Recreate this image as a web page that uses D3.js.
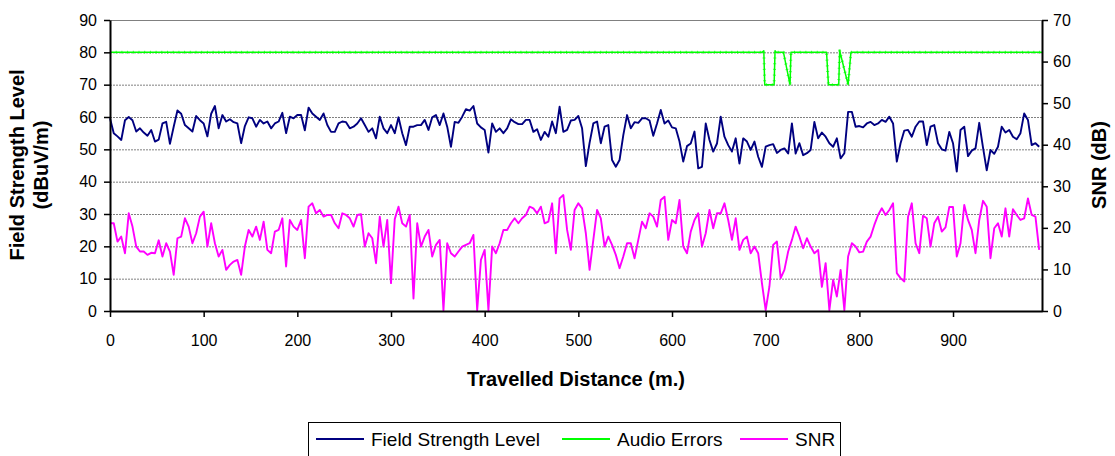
<!DOCTYPE html>
<html>
<head>
<meta charset="utf-8">
<script src="https://cdn.jsdelivr.net/npm/d3@7"></script>
<style>
  html, body { margin: 0; padding: 0; background: #ffffff; }
  svg { display: block; font-family: "Liberation Sans", Arial, sans-serif; }
</style>
</head>
<body>
<script>
// Drive test log: one reading every STEP_M metres along the route.
const STEP_M = 4;

// Field strength level, dBuV/m (left axis)
const fieldStrength = [
  59.6, 55, 54, 52.9, 59, 60, 59, 55.5, 56.5, 55.2, 54.2, 56, 52.4, 53, 58, 58.5, 51.7, 57, 62, 61,
  57.5, 56.5, 55.5, 60.3, 59, 58, 54, 61, 63.4, 56.5, 60.6, 58.6, 59.3, 58.4, 58, 51.9, 57.2, 59.9, 59.6, 57,
  59.1, 58, 58.6, 56.5, 58, 58.6, 61.3, 55, 60.1, 59.6, 60.6, 60.6, 55.9, 62.9, 61.1, 60.1, 59.1, 61.1, 57.5, 55.4,
  55.4, 58, 58.6, 58.4, 56.5, 57, 58, 59.6, 57.5, 55.4, 56.5, 53.4, 60.1, 56.5, 55, 57.5, 55, 59.9, 55, 51.3,
  57, 57, 57.5, 57.5, 59.1, 56, 59.9, 60.6, 57.5, 61.1, 57, 50.8, 58.5, 58.2, 60.1, 62.4, 62, 63.4, 58, 56.8,
  56, 49, 58, 55.4, 56.5, 55, 56.5, 59.3, 58.4, 57.8, 57.8, 59.1, 59.1, 55.4, 56.2, 52.9, 55.4, 53.9, 58.6, 55,
  63.2, 55.4, 56, 58.9, 59.1, 60.3, 56.5, 44.8, 52, 58, 58.6, 51.9, 57, 57.5, 46.7, 44.6, 46.7, 54.4, 60.6, 56.5,
  58.4, 58.2, 59.6, 59.6, 58.9, 54.2, 58, 62.2, 58, 58.9, 56.8, 56.5, 52.4, 46.2, 51, 51.8, 55.5, 44.1, 44.6, 58,
  52.9, 49.3, 51.8, 60.1, 53.9, 51.3, 49.3, 53.4, 45.6, 53.4, 52.4, 49.8, 52.4, 47.7, 44.6, 50.8, 51.3, 51.6, 48.9, 49.8,
  50.3, 48.7, 58, 48.7, 51.9, 48.2, 48.8, 49.8, 58.5, 53.4, 55.2, 53.9, 51.9, 50.8, 53.4, 47.2, 48.8, 61.6, 61.6, 57,
  57.2, 56.8, 58, 58.5, 57.5, 58, 59.1, 58.5, 60.1, 58, 46.2, 51.9, 55.8, 56, 53.9, 57, 58.6, 58.6, 51.3, 57,
  57.5, 51.9, 50, 49.6, 55.4, 51.9, 43.1, 56, 57, 47.9, 49.6, 50.3, 58.2, 50.6, 43.5, 49.8, 48.6, 50.8, 57, 55.2,
  56, 53.9, 53.1, 55, 61.1, 59.1, 51.3, 51.9, 50.8
];

// Signal-to-noise ratio, dB (right axis)
const snr = [
  21.1, 21.1, 16.7, 17.9, 13.9, 23.5, 20.3, 15.5, 14.3, 14.3, 13.5, 14, 13.9, 17, 13.1, 16.3, 14.3, 8.7, 17.5, 17.9,
  22.3, 20.3, 16.3, 18.7, 22.7, 23.9, 15.5, 21.1, 16.3, 13.1, 14.7, 9.9, 11.1, 11.9, 12.3, 8.7, 15.5, 19.5, 17.9, 20.3,
  17.1, 21.5, 14.7, 13.9, 19.1, 19.5, 22.3, 10.7, 21.9, 20.3, 19.5, 21.9, 12.7, 25.1, 25.9, 23.5, 24.3, 22.7, 23.1, 23.1,
  21.1, 19.9, 23.5, 23.1, 22.3, 20.3, 23.1, 23.3, 15.5, 18.7, 17.5, 11.5, 22.7, 15.5, 21.9, 6.7, 22.1, 25.1, 21.1, 20.3,
  23.1, 3, 21.1, 15.5, 17.9, 19.5, 13.1, 15.9, 17.1, 0.2, 16.3, 13.9, 13.1, 14.3, 15.5, 15.9, 16.3, 18.3, 0.2, 12.3,
  14.7, 0.2, 15.5, 13.9, 16.3, 19.5, 19.5, 21.1, 22.3, 21.1, 22.3, 23.1, 25.1, 24.7, 23.5, 25.1, 21.1, 21.5, 25.9, 13.9,
  27.1, 27.9, 19.5, 14.7, 24.3, 25.9, 24.7, 18.7, 9.9, 17.1, 24.3, 22.3, 15.5, 17.9, 15.9, 13.5, 10.3, 13.1, 16.3, 16.3,
  12.7, 17.1, 21.5, 19.9, 23.5, 22.7, 20.3, 26.7, 27.5, 17.1, 21.9, 21.1, 26.7, 15.5, 13.9, 19.1, 21.9, 23.5, 15.5, 18.7,
  24.3, 19.9, 23.5, 23.5, 25.9, 21.9, 17.1, 22.3, 14.7, 17.1, 17.9, 13.9, 15.5, 13.9, 6.7, 0.2, 5.9, 15.9, 16.7, 7.9,
  9.9, 14.3, 17.1, 20.3, 17.9, 15.1, 17.5, 15.5, 13.9, 14.7, 5.8, 11.5, 0.2, 7.5, 3.5, 9.9, 0.2, 13.1, 16.3, 15.5,
  14.1, 14.3, 16.7, 17.9, 20.7, 23.1, 24.7, 23.1, 24.3, 25.9, 9.1, 7.9, 7.1, 22.7, 25.9, 16.3, 13.9, 22.9, 22.3, 15.5,
  21.1, 22.7, 19.1, 20.1, 25, 25, 13.1, 16.3, 25.5, 21.9, 19.5, 13.9, 21.9, 26.5, 25.1, 12.7, 19.9, 21.1, 17.9, 24.7,
  17.9, 24.5, 23.1, 21.9, 22.3, 27.1, 23.1, 22.7, 14.7
];

// Audio errors indicator (left axis scale): 80 = clean audio, 70 = errors
const audioDist  = [0, 696, 698, 699, 709, 710, 711, 719, 726, 727, 765, 767, 778, 779, 788, 791, 995];
const audioLevel = [80, 80, 80.5, 70, 70, 80.5, 80, 80, 70, 80, 80, 70, 70, 80.5, 70, 80, 80];

const leftTicks  = [0, 10, 20, 30, 40, 50, 60, 70, 80, 90];
const rightTicks = [0, 10, 20, 30, 40, 50, 60, 70];
const xTicks     = [0, 100, 200, 300, 400, 500, 600, 700, 800, 900];

const seriesNames  = ["Field Strength Level", "Audio Errors", "SNR"];
const seriesColors = ["#000080", "#00ff00", "#ff00ff"];

const W = 1115, H = 456;
const plot = { left: 110, right: 1042, top: 20, bottom: 311 };

const svg = d3.select("body").append("svg").attr("width", W).attr("height", H);

const x  = d3.scaleLinear().domain([0, 995]).range([plot.left, plot.right]);
const yL = d3.scaleLinear().domain([0, 90]).range([plot.bottom, plot.top]);
const yR = d3.scaleLinear().domain([0, 70]).range([plot.bottom, plot.top]);

// horizontal gridlines (dotted), top border solid
const grid = svg.append("g");
grid.selectAll("line.g").data(leftTicks.filter(t => t > 0 && t < 90)).join("line")
  .attr("x1", plot.left).attr("x2", plot.right)
  .attr("y1", d => yL(d) + 0.5).attr("y2", d => yL(d) + 0.5)
  .attr("stroke", "#808080").attr("stroke-width", 1).attr("stroke-dasharray", "2,1");
grid.append("line")
  .attr("x1", plot.left).attr("x2", plot.right)
  .attr("y1", yL(90) + 0.5).attr("y2", yL(90) + 0.5)
  .attr("stroke", "#808080").attr("stroke-width", 1.2);

// series
const fsData  = fieldStrength.map((v, i) => [i * STEP_M, v]);
const snrData = snr.map((v, i) => [i * STEP_M, v]);
const audData = audioDist.map((d, i) => [d, audioLevel[i]]);

const lineL = d3.line().x(d => x(d[0])).y(d => yL(d[1]));
const lineR = d3.line().x(d => x(d[0])).y(d => yR(d[1]));

const lines = svg.append("g").attr("fill", "none").attr("stroke-linejoin", "round");
lines.append("path").attr("d", lineL(fsData))
  .attr("stroke", seriesColors[0]).attr("stroke-width", 1.9);
lines.append("path").attr("d", lineL(audData))
  .attr("stroke", seriesColors[1]).attr("stroke-width", 1.5);
// fine tick texture along the audio trace
lines.append("path").attr("d", lineL(audData))
  .attr("stroke", seriesColors[1]).attr("stroke-width", 3)
  .attr("stroke-dasharray", "1,4.7").attr("opacity", 0.7);
lines.append("path").attr("d", lineR(snrData))
  .attr("stroke", seriesColors[2]).attr("stroke-width", 1.9);

// axes
const tickFont = 16;
function styleAxis(g) {
  g.selectAll("path.domain").attr("stroke", "#000").attr("stroke-width", 2);
  g.selectAll(".tick line").attr("stroke", "#000").attr("stroke-width", 1.5);
  g.selectAll(".tick text").attr("fill", "#000").attr("font-size", tickFont)
    .attr("font-family", "Liberation Sans, Arial, sans-serif");
}

svg.append("g").attr("transform", `translate(${plot.left},0)`)
  .call(d3.axisLeft(yL).tickValues(leftTicks).tickSize(6).tickSizeOuter(0).tickPadding(7))
  .call(styleAxis);

svg.append("g").attr("transform", `translate(${plot.right},0)`)
  .call(d3.axisRight(yR).tickValues(rightTicks).tickSize(6).tickSizeOuter(0).tickPadding(5))
  .call(styleAxis);

svg.append("g").attr("transform", `translate(0,${plot.bottom})`)
  .call(d3.axisBottom(x).tickValues(xTicks).tickSize(6).tickSizeOuter(0).tickPadding(18))
  .call(styleAxis);

// axis titles
const titleSize = 20;
function title(sel) {
  return sel.attr("text-anchor", "middle").attr("font-size", titleSize).attr("font-weight", "bold");
}
svg.append("text").attr("transform", "translate(24,165) rotate(-90)").call(title).text("Field Strength Level");
svg.append("text").attr("transform", "translate(48,165) rotate(-90)").call(title).text("(dBuV/m)");
svg.append("text").attr("transform", "translate(1106,165) rotate(-90)").call(title).text("SNR (dB)");
svg.append("text").attr("x", 576).attr("y", 386).call(title).text("Travelled Distance (m.)");

// legend
const legendFont = 19;
const legend = svg.append("g");
legend.append("rect")
  .attr("x", 308.5).attr("y", 422.5).attr("width", 532).attr("height", 40)
  .attr("fill", "#fff").attr("stroke", "#000").attr("stroke-width", 1);
const legendX = [316, 562, 740];
const item = legend.selectAll("g.item").data(seriesNames).join("g")
  .attr("transform", (d, i) => `translate(${legendX[i]},439)`);
item.append("line").attr("x1", 0).attr("x2", 48).attr("y1", 0).attr("y2", 0)
  .attr("stroke", (d, i) => seriesColors[i]).attr("stroke-width", 1.9);
item.append("text").attr("x", 55).attr("y", 6.5).attr("font-size", legendFont).text(d => d);
</script>
</body>
</html>
